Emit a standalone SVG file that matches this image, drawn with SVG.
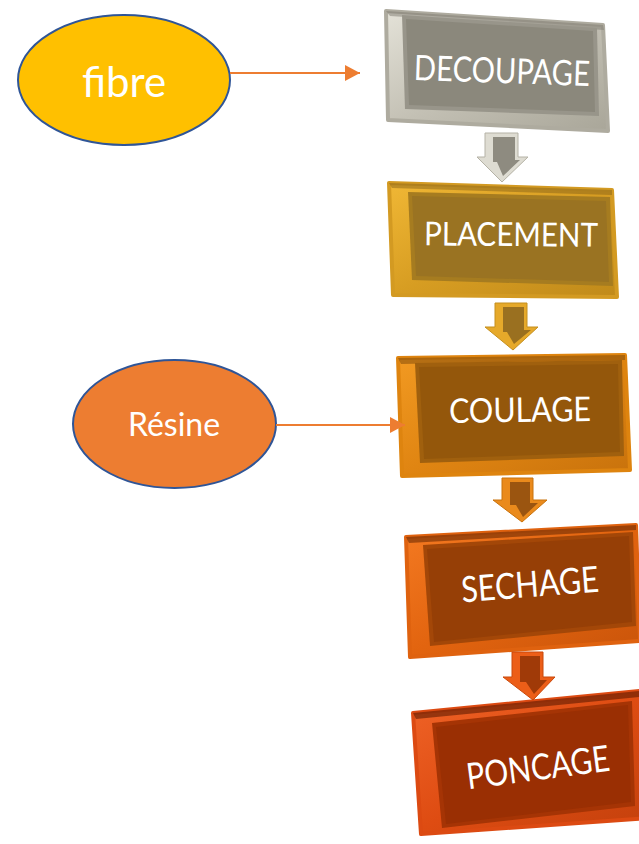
<svg xmlns="http://www.w3.org/2000/svg" width="639" height="844" viewBox="0 0 639 844">
<defs>
<style>
.lbl{font-family:Lato,"Liberation Sans",sans-serif;fill:#ffffff;text-anchor:middle}
.ell{stroke:#2F5597;stroke-width:2}
.con{stroke:#ED7D31;stroke-width:2;fill:none}
.face{stroke:none}
</style>
<marker id="ah" markerWidth="15" markerHeight="16" refX="15" refY="8" orient="auto" markerUnits="userSpaceOnUse">
<polygon points="0,0 15,8 0,16" fill="#ED7D31"/>
</marker>
<linearGradient id="bGrey" x1="0" y1="0" x2="1" y2="1"><stop offset="0" stop-color="#e4e2d8"/><stop offset="0.5" stop-color="#c3c0b4"/><stop offset="1" stop-color="#a9a699"/></linearGradient>
<linearGradient id="bGold" x1="0" y1="0" x2="1" y2="1"><stop offset="0" stop-color="#f0b735"/><stop offset="0.5" stop-color="#d79d22"/><stop offset="1" stop-color="#c08a1a"/></linearGradient>
<linearGradient id="bOr" x1="0" y1="0" x2="1" y2="1"><stop offset="0" stop-color="#f29a22"/><stop offset="0.5" stop-color="#e08512"/><stop offset="1" stop-color="#c8720c"/></linearGradient>
<linearGradient id="bOr2" x1="0" y1="0" x2="1" y2="1"><stop offset="0" stop-color="#f47a22"/><stop offset="0.5" stop-color="#e2640f"/><stop offset="1" stop-color="#c9540a"/></linearGradient>
<linearGradient id="bRed" x1="0" y1="0" x2="1" y2="1"><stop offset="0" stop-color="#f06428"/><stop offset="0.5" stop-color="#de4c12"/><stop offset="1" stop-color="#c2400c"/></linearGradient>
</defs>

<g id="fibre">
<ellipse class="ell" cx="124" cy="80" rx="106" ry="65" fill="#FFC000"/>
<text class="lbl" x="124" y="97" font-size="42">fibre</text>
</g>

<g id="resine">
<ellipse class="ell" cx="174.5" cy="424" rx="101.5" ry="64" fill="#ED7D31"/>
<text class="lbl" x="174" y="436" font-size="32">Résine</text>
</g>

<g id="decoupage">
<polygon points="386,11 603,25 608,131 388,120" fill="url(#bGrey)" stroke="#aeab9f" stroke-width="4" stroke-linejoin="round"/>
<polygon points="386,11 603,25 604,30 390,16" fill="#7d7a6f" opacity="0.5"/>
<polygon class="face" points="402,15 597,28 599,116 405,109" fill="#98958a"/>
<polygon class="face" points="406,19 593,31 595,112 409,105" fill="#8b887c"/>
<text class="lbl" x="502" y="83" font-size="35" textLength="176" lengthAdjust="spacingAndGlyphs" transform="rotate(2 502 70)">DECOUPAGE</text>
</g>

<g id="placement">
<polygon points="389,183 612,190 617,297 393,295" fill="url(#bGold)" stroke="#d39a22" stroke-width="4" stroke-linejoin="round"/>
<polygon points="389,183 612,190 612,195 392,188" fill="#8a6418" opacity="0.5"/>
<polygon class="face" points="408,192 610,197 613,286 412,280" fill="#a67c20"/>
<polygon class="face" points="412,196 606,201 609,282 416,276" fill="#9a7322"/>
<text class="lbl" x="511" y="246" font-size="33" textLength="174" lengthAdjust="spacingAndGlyphs" transform="rotate(0.5 511 235)">PLACEMENT</text>
</g>

<g id="coulage">
<polygon points="398,358 625,355 630,470 402,476" fill="url(#bOr)" stroke="#de840f" stroke-width="4" stroke-linejoin="round"/>
<polygon points="398,358 625,355 625,360 401,364" fill="#7a4608" opacity="0.5"/>
<polygon class="face" points="415,363 622,360 624,456 420,463" fill="#a0600e"/>
<polygon class="face" points="419,367 618,364 620,452 424,459" fill="#94570b"/>
<text class="lbl" x="520" y="422" font-size="34" textLength="142" lengthAdjust="spacingAndGlyphs" transform="rotate(-0.8 520 410)">COULAGE</text>
</g>

<g id="sechage">
<polygon points="406,537 636,525 640,641 410,657" fill="url(#bOr2)" stroke="#df620f" stroke-width="4" stroke-linejoin="round"/>
<polygon points="406,537 636,525 636,530 409,543" fill="#6e2c04" opacity="0.6"/>
<polygon class="face" points="423,545 633,532 636,626 430,646" fill="#a34708"/>
<polygon class="face" points="427,549 629,536 632,622 434,642" fill="#963f06"/>
<text class="lbl" x="530" y="597" font-size="36" textLength="138" lengthAdjust="spacingAndGlyphs" transform="rotate(-4.5 530 585)">SECHAGE</text>
</g>

<g id="poncage">
<polygon points="413,713 650,690 650,818 421,834" fill="url(#bRed)" stroke="#dc4a12" stroke-width="4" stroke-linejoin="round"/>
<polygon points="413,713 650,690 650,696 416,719" fill="#5e1a02" opacity="0.6"/>
<polygon class="face" points="432,723 632,701 635,806 442,828" fill="#a53405"/>
<polygon class="face" points="436,727 628,705 631,802 446,824" fill="#9a2f03"/>
<text class="lbl" x="538" y="780" font-size="36" textLength="144" lengthAdjust="spacingAndGlyphs" transform="rotate(-7.5 538 768)">PONCAGE</text>
</g>

<g id="connectors">
<line class="con" x1="230" y1="73" x2="360" y2="73" marker-end="url(#ah)"/>
<line class="con" x1="276" y1="425" x2="405" y2="425" marker-end="url(#ah)"/>
<g id="arrow1">
<polygon points="485,133 518,133 518,157 528,157 502,182 477,157 485,157" fill="#dedcd2" stroke="#b5b2a6" stroke-width="1"/>
<polygon points="493,137 515,137 515,160 520,160 503,176 497,162 493,162" fill="#8e8b80"/>
</g>
<g id="arrow2">
<polygon points="495,303 527,303 527,327 538,327 513,350 485,327 495,327" fill="#e6a92a" stroke="#c48f1f" stroke-width="1"/>
<polygon points="503,307 524,307 524,330 531,330 514,344 507,332 503,332" fill="#9a7020"/>
</g>
<g id="arrow3">
<polygon points="502,478 533,478 533,500 547,500 522,522 493,500 502,500" fill="#ea8a1c" stroke="#c8720c" stroke-width="1"/>
<polygon points="510,482 530,482 530,503 538,503 523,517 516,505 510,505" fill="#9b5510"/>
</g>
<g id="arrow4">
<polygon points="512,652 543,652 543,677 555,677 533,700 503,677 512,677" fill="#ec5e18" stroke="#c9480a" stroke-width="1"/>
<polygon points="520,656 540,656 540,680 547,680 534,694 526,682 520,682" fill="#a03a08"/>
</g>
</g>
</svg>
